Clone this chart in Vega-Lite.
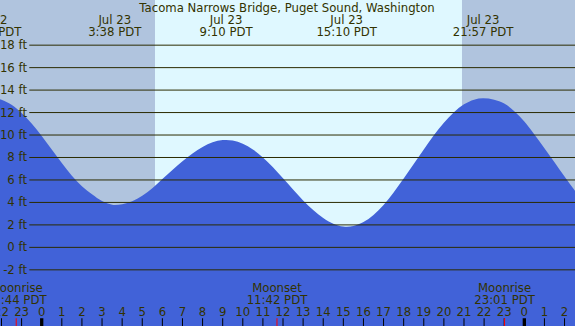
{
  "$schema": "https://vega.github.io/schema/vega-lite/v6.json",
  "width": 575,
  "height": 326,
  "autosize": {"type": "none"},
  "padding": 0,
  "config": {"view": {"stroke": null}, "axis": {"disable": true}, "text": {"font": "DejaVu Sans", "fontSize": 11.7, "color": "#333300"}},
  "datasets": {
    "bg": [
      {"s": -3, "e": 5.634, "k": "night"},
      {"s": 5.634, "e": 20.9, "k": "day"},
      {"s": 20.9, "e": 27, "k": "night"}
    ],
    "tide": [
      {"h": -2.5, "ft": 13.3}, {"h": -2.0, "ft": 13.15}, {"h": -1.5, "ft": 12.69},
      {"h": -1.0, "ft": 11.96}, {"h": -0.5, "ft": 11.02}, {"h": 0.0, "ft": 9.91},
      {"h": 0.5, "ft": 8.71}, {"h": 1.0, "ft": 7.5}, {"h": 1.5, "ft": 6.38},
      {"h": 2.0, "ft": 5.45}, {"h": 2.5, "ft": 4.72}, {"h": 3.0, "ft": 4.12},
      {"h": 3.5, "ft": 3.8}, {"h": 3.64, "ft": 3.77}, {"h": 4.0, "ft": 3.83},
      {"h": 4.5, "ft": 4.11}, {"h": 5.0, "ft": 4.59}, {"h": 5.5, "ft": 5.26},
      {"h": 6.0, "ft": 6.08}, {"h": 6.5, "ft": 6.88}, {"h": 7.0, "ft": 7.66},
      {"h": 7.5, "ft": 8.36}, {"h": 8.0, "ft": 8.94}, {"h": 8.5, "ft": 9.36},
      {"h": 9.0, "ft": 9.55}, {"h": 9.17, "ft": 9.56}, {"h": 9.5, "ft": 9.51},
      {"h": 10.0, "ft": 9.23}, {"h": 10.5, "ft": 8.72}, {"h": 11.0, "ft": 8.0},
      {"h": 11.5, "ft": 7.13}, {"h": 12.0, "ft": 6.15}, {"h": 12.5, "ft": 5.15},
      {"h": 13.0, "ft": 4.18}, {"h": 13.5, "ft": 3.32}, {"h": 14.0, "ft": 2.62},
      {"h": 14.5, "ft": 2.11}, {"h": 15.0, "ft": 1.86}, {"h": 15.17, "ft": 1.84},
      {"h": 15.5, "ft": 1.91}, {"h": 16.0, "ft": 2.26}, {"h": 16.5, "ft": 2.89},
      {"h": 17.0, "ft": 3.77}, {"h": 17.5, "ft": 4.88}, {"h": 18.0, "ft": 6.12},
      {"h": 18.5, "ft": 7.42}, {"h": 19.0, "ft": 8.72}, {"h": 19.5, "ft": 9.97},
      {"h": 20.0, "ft": 11.09}, {"h": 20.5, "ft": 12.03}, {"h": 21.0, "ft": 12.73},
      {"h": 21.5, "ft": 13.15}, {"h": 21.95, "ft": 13.27}, {"h": 22.5, "ft": 13.15},
      {"h": 23.0, "ft": 12.8}, {"h": 23.5, "ft": 12.12}, {"h": 24.0, "ft": 11.2},
      {"h": 24.5, "ft": 10.05}, {"h": 25.0, "ft": 8.82}, {"h": 25.5, "ft": 7.58},
      {"h": 26.0, "ft": 6.3}, {"h": 26.5, "ft": 5.08}, {"h": 27.0, "ft": 4.0}
    ],
    "grid": [
      {"ft": -2, "label": "-2 ft"}, {"ft": 0, "label": "0 ft"}, {"ft": 2, "label": "2 ft"},
      {"ft": 4, "label": "4 ft"}, {"ft": 6, "label": "6 ft"}, {"ft": 8, "label": "8 ft"},
      {"ft": 10, "label": "10 ft"}, {"ft": 12, "label": "12 ft"}, {"ft": 14, "label": "14 ft"},
      {"ft": 16, "label": "16 ft"}, {"ft": 18, "label": "18 ft"}
    ],
    "events": [
      {"h": -2.52, "l1": "Jul 22", "l2": "21:29 PDT"},
      {"h": 3.633, "l1": "Jul 23", "l2": "3:38 PDT"},
      {"h": 9.167, "l1": "Jul 23", "l2": "9:10 PDT"},
      {"h": 15.167, "l1": "Jul 23", "l2": "15:10 PDT"},
      {"h": 21.95, "l1": "Jul 23", "l2": "21:57 PDT"}
    ],
    "moon": [
      {"h": -1.267, "l1": "Moonrise", "l2": "22:44 PDT"},
      {"h": 11.7, "l1": "Moonset", "l2": "11:42 PDT"},
      {"h": 23.017, "l1": "Moonrise", "l2": "23:01 PDT"}
    ],
    "hours": [
      {"h": -2, "label": "22"}, {"h": -1, "label": "23"}, {"h": 0, "label": "0"},
      {"h": 1, "label": "1"}, {"h": 2, "label": "2"}, {"h": 3, "label": "3"},
      {"h": 4, "label": "4"}, {"h": 5, "label": "5"}, {"h": 6, "label": "6"},
      {"h": 7, "label": "7"}, {"h": 8, "label": "8"}, {"h": 9, "label": "9"},
      {"h": 10, "label": "10"}, {"h": 11, "label": "11"}, {"h": 12, "label": "12"},
      {"h": 13, "label": "13"}, {"h": 14, "label": "14"}, {"h": 15, "label": "15"},
      {"h": 16, "label": "16"}, {"h": 17, "label": "17"}, {"h": 18, "label": "18"},
      {"h": 19, "label": "19"}, {"h": 20, "label": "20"}, {"h": 21, "label": "21"},
      {"h": 22, "label": "22"}, {"h": 23, "label": "23"}, {"h": 24, "label": "0"},
      {"h": 25, "label": "1"}, {"h": 26, "label": "2"}
    ],
    "heading": [{"h": 12.2, "t": "Tacoma Narrows Bridge, Puget Sound, Washington"}]
  },
  "layer": [
    {
      "data": {"name": "bg"},
      "mark": {"type": "rect", "clip": true},
      "encoding": {
        "x": {"field": "s", "type": "quantitative", "axis": null, "scale": {"domain": [-2.074, 26.52], "nice": false, "zero": false}},
        "x2": {"field": "e"},
        "color": {"field": "k", "type": "nominal", "legend": null, "scale": {"domain": ["night", "day"], "range": ["#B0C4DE", "#DFF8FF"]}}
      }
    },
    {
      "data": {"name": "tide"},
      "mark": {"type": "area", "clip": true, "color": "#4162D8", "interpolate": "monotone"},
      "encoding": {
        "x": {"field": "h", "type": "quantitative", "axis": null},
        "y": {"field": "ft", "type": "quantitative", "axis": null, "scale": {"domain": [-7, 22.02], "nice": false, "zero": false}},
        "y2": {"datum": -7.5}
      }
    },
    {
      "data": {"name": "grid"},
      "mark": {"type": "rule", "color": "#2b2b00", "strokeWidth": 1},
      "encoding": {
        "y": {"field": "ft", "type": "quantitative", "axis": null},
        "x": {"datum": -0.617, "type": "quantitative", "axis": null},
        "x2": {"datum": 26.6}
      }
    },
    {
      "data": {"name": "grid"},
      "mark": {"type": "text", "align": "right", "baseline": "middle"},
      "encoding": {
        "y": {"field": "ft", "type": "quantitative", "axis": null},
        "x": {"datum": -0.731, "type": "quantitative", "axis": null},
        "text": {"field": "label"}
      }
    },
    {
      "data": {"name": "heading"},
      "mark": {"type": "text", "align": "center", "baseline": "alphabetic"},
      "encoding": {
        "x": {"field": "h", "type": "quantitative", "axis": null},
        "y": {"datum": 20.98, "type": "quantitative", "axis": null},
        "text": {"field": "t"}
      }
    },
    {
      "data": {"name": "events"},
      "mark": {"type": "text", "align": "center", "baseline": "alphabetic"},
      "encoding": {
        "x": {"field": "h", "type": "quantitative", "axis": null},
        "y": {"datum": 19.9, "type": "quantitative", "axis": null},
        "text": {"field": "l1"}
      }
    },
    {
      "data": {"name": "events"},
      "mark": {"type": "text", "align": "center", "baseline": "alphabetic"},
      "encoding": {
        "x": {"field": "h", "type": "quantitative", "axis": null},
        "y": {"datum": 18.84, "type": "quantitative", "axis": null},
        "text": {"field": "l2"}
      }
    },
    {
      "data": {"name": "moon"},
      "mark": {"type": "text", "align": "center", "baseline": "alphabetic"},
      "encoding": {
        "x": {"field": "h", "type": "quantitative", "axis": null},
        "y": {"datum": -3.94, "type": "quantitative", "axis": null},
        "text": {"field": "l1"}
      }
    },
    {
      "data": {"name": "moon"},
      "mark": {"type": "text", "align": "center", "baseline": "alphabetic"},
      "encoding": {
        "x": {"field": "h", "type": "quantitative", "axis": null},
        "y": {"datum": -5.04, "type": "quantitative", "axis": null},
        "text": {"field": "l2"}
      }
    },
    {
      "data": {"name": "hours"},
      "mark": {"type": "text", "align": "center", "baseline": "alphabetic"},
      "encoding": {
        "x": {"field": "h", "type": "quantitative", "axis": null},
        "y": {"datum": -6.11, "type": "quantitative", "axis": null},
        "text": {"field": "label"}
      }
    },
    {
      "data": {"name": "hours"},
      "mark": {"type": "rule", "color": "#000000"},
      "encoding": {
        "x": {"field": "h", "type": "quantitative", "axis": null},
        "y": {"datum": -6.31, "type": "quantitative", "axis": null},
        "y2": {"datum": -7.2},
        "strokeWidth": {"condition": {"test": "datum.label == '0'", "value": 3.3}, "value": 1}
      }
    },
    {
      "data": {"name": "moon"},
      "mark": {"type": "rule", "color": "#FF0000", "strokeWidth": 1},
      "encoding": {
        "x": {"field": "h", "type": "quantitative", "axis": null},
        "y": {"datum": -6.31, "type": "quantitative", "axis": null},
        "y2": {"datum": -7.2}
      }
    }
  ]
}
